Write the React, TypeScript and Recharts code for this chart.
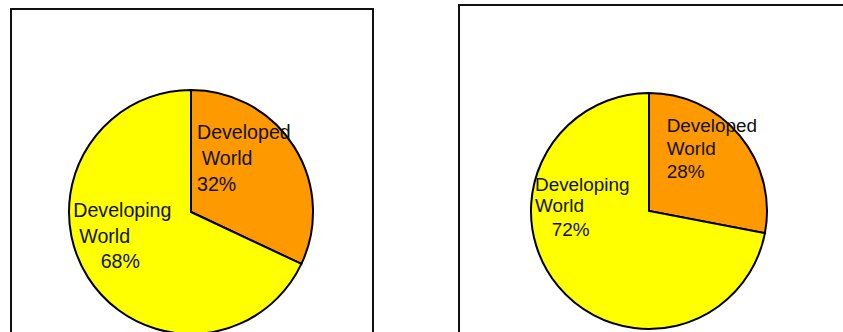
import React from "react";
import { PieChart, Pie, Cell } from "recharts";

// ---- data ----
const categories = ["Developed World", "Developing World"];
const leftValues = [32, 68];
const rightValues = [28, 72];
const sliceColors = ["#FF9900", "#FFFF00"];

const leftData = categories.map((name, i) => ({ name, value: leftValues[i] }));
const rightData = categories.map((name, i) => ({ name, value: rightValues[i] }));

// label layout offsets (relative to pie centre), per slice, per line
const leftLayout = [
  { dx: [6, 10.7, 6], dy: [-73, -47, -21.3] },
  { dx: [-117.7, -111.7, -90.3], dy: [5, 30.7, 56] },
];
const rightLayout = [
  { dx: [17.7, 17.7, 17.7], dy: [-79.3, -56, -32.7] },
  { dx: [-114, -114, -97.3], dy: [-20, 1.3, 25] },
];

const FONT = "'Liberation Sans', Arial, Helvetica, sans-serif";

function makeLabel(layout: any[], fontSize: number, fcx: number, fcy: number) {
  return (props: any) => {
    const cx = typeof props.cx === "number" ? props.cx : fcx;
    const cy = typeof props.cy === "number" ? props.cy : fcy;
    const idx = props.index;
    const name = props.name ?? props.payload?.name ?? "";
    const value = props.value ?? props.payload?.value;
    const lines = [...String(name).split(" "), `${value}%`];
    const l = layout[idx];
    return (
      <text
        key={`lbl-${idx}`}
        fontFamily={FONT}
        fontSize={fontSize}
        fill="#111"
        textAnchor="start"
      >
        {lines.map((t, i) => (
          <tspan key={i} x={cx + l.dx[i]} y={cy + l.dy[i]}>
            {t}
          </tspan>
        ))}
      </text>
    );
  };
}

export default function App() {
  return (
    <div
      style={{
        position: "absolute",
        left: 0,
        top: 0,
        width: 843,
        height: 332,
        overflow: "hidden",
        background: "#fff",
      }}
    >
      <div
        style={{
          position: "absolute",
          left: 10,
          top: 8,
          width: 364,
          height: 400,
          border: "2px solid #111",
          boxSizing: "border-box",
        }}
      />
      <div
        style={{
          position: "absolute",
          left: 458,
          top: 4,
          width: 500,
          height: 400,
          border: "2px solid #111",
          boxSizing: "border-box",
        }}
      />
      <div style={{ position: "absolute", left: 0, top: 0 }}>
        <PieChart width={843} height={332} margin={{ top: 0, right: 0, bottom: 0, left: 0 }}>
          <Pie
            data={leftData}
            dataKey="value"
            nameKey="name"
            cx={191}
            cy={212}
            outerRadius={122}
            startAngle={90}
            endAngle={-270}
            stroke="#000"
            strokeWidth={2}
            labelLine={false}
            label={makeLabel(leftLayout, 19.6, 191, 212)}
            isAnimationActive={false}
          >
            {leftData.map((d, i) => (
              <Cell key={d.name} fill={sliceColors[i]} />
            ))}
          </Pie>
          <Pie
            data={rightData}
            dataKey="value"
            nameKey="name"
            cx={649}
            cy={211}
            outerRadius={118}
            startAngle={90}
            endAngle={-270}
            stroke="#000"
            strokeWidth={2}
            labelLine={false}
            label={makeLabel(rightLayout, 18.9, 649, 211)}
            isAnimationActive={false}
          >
            {rightData.map((d, i) => (
              <Cell key={d.name} fill={sliceColors[i]} />
            ))}
          </Pie>
        </PieChart>
      </div>
    </div>
  );
}
